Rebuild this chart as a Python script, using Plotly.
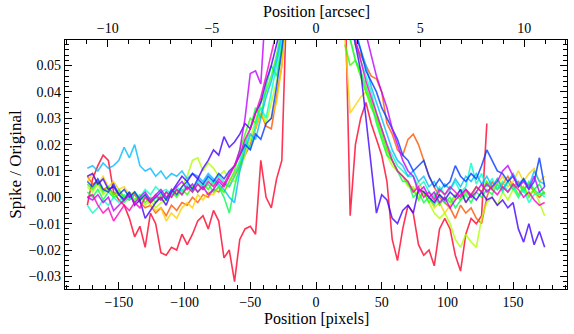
import plotly.graph_objects as go

# arcsec per pixel, for the top axis
scale = 0.0631

x_left = list(range(-174, -21, 4))
x_right = list(range(22, 175, 4))

# values in units of 1e-3 (Spike / Original)
red_l = [-3, 7, 12, 16, 14, 2, -1, -3, -8, -15, -11, -19, -6,
         -10, -21, -22, -19, -20, -14, -18, -14, -9, -7, -12, -5, -9,
         -23, -20, -32, -16, -12, -11, -14, 14, 0, -4, 7, 14, 80]
red_r = [80, -7, 20, 30, 36, 28, 22, 16, 6, -16, -24, -12, -3,
         -6, -18, -22, -20, -26, -12, -8, -12, -22, -28, -14, -8, -10,
         -7, 28, None, None, None, None, None, None, None, None, None, None, None]

orange_l = [8, 5, 6, 3, 4, 1, 2, 0, -1, 1, -2, -4, -3,
            -6, -4, -7, -3, -5, -2, -3, 0, -2, 1, 0, 3, 2,
            5, 4, 8, 12, 16, 20, 26, 32, 27, 26, 38, 50, 75]
orange_r = [80, 70, 58, 54, 50, 46, 45, 40, 28, 24, 18, 16, 22,
            24, 20, 14, 8, 4, 0, -2, -4, -8, -3, -6, -4, -8,
            -10, 0, 6, 3, 5, 8, 4, 6, 3, 5, 2, 0, 2]

gold_l = [6, 9, 5, 8, 4, 6, 3, 4, 1, 2, -1, 0, -3,
          -5, -4, -9, -6, -8, -4, -2, -4, 1, -1, 2, 1, 4,
          2, 6, 9, 13, 17, 22, 26, 32, 28, 30, 36, 50, 70]
gold_r = [60, 32, 35, 38, 40, 36, 30, 26, 18, 14, 10, 8, 6,
          2, 6, 2, 0, -4, -2, -6, -3, 0, 2, -2, 1, 4,
          2, 6, 3, 5, 8, 4, 6, 10, 6, 9, 11, 6, 8]

lime_l = [4, 2, 5, 1, 3, 0, 2, -1, 1, -2, 0, -3, -1,
          -4, -2, -1, 2, 2, 4, 8, 14, 15, 10, 13, 11, 8,
          10, 7, 6, 10, 16, 22, 30, 34, 28, 36, 44, 54, 72]
lime_r = [80, 60, 52, 46, 40, 36, 30, 22, 16, 12, 10, 8, 4,
          4, 0, 2, -2, -6, -8, -6, -10, -16, -19, -14, -17, -19,
          -8, -2, 0, -3, 2, -1, 3, 0, 4, 1, 3, -2, -7]

green_l = [5, 3, 6, 2, 4, 1, 3, 0, 2, -1, 1, -2, 0,
           -2, 1, -1, 2, 0, 3, 1, 4, 2, 5, 3, 6, 4,
           2, 6, 10, 18, 24, 30, 28, 36, 40, 46, 54, 64, 80]
green_r = [58, 50, 52, 46, 40, 34, 30, 24, 18, 14, 10, 8, 5,
           3, -1, 2, -2, 1, -3, 0, -2, 1, -1, 2, 0, 4,
           2, 6, 3, 7, 4, 2, 5, 1, 4, 0, 3, 1, 2]

green2_l = [2, 0, 3, -1, 2, 0, 1, -2, 0, 2, -1, 1, -2,
            0, -1, 2, 0, 3, 1, 4, 2, 5, 3, 5, 2, 4,
            0, -6, 4, 12, 20, 26, 34, 30, 42, 50, 46, 58, 75]
green2_r = [75, 60, 52, 48, 42, 36, 28, 22, 16, 14, 10, 6, 6,
            0, 2, -2, 0, -3, 1, -2, 0, -4, -1, 1, -2, 2,
            0, 3, 1, 5, 2, 6, 3, 5, 2, 6, 3, 5, 1]

aqua_l = [-3, -6, -4, -1, -3, 0, -2, 1, -1, 2, 0, 3, 1,
          4, 2, 3, 1, 4, 2, 5, 3, 6, 4, 7, 5, 8,
          6, 4, 8, 14, 22, 18, 28, 34, 30, 40, 50, 60, 75]
aqua_r = [80, 66, 58, 52, 46, 40, 32, 26, 20, 16, 12, 10, 8,
          8, 4, 6, 2, 0, 4, 1, 3, 6, 2, 4, 13, 5,
          9, 4, 7, 3, 6, 2, 4, 0, 3, -2, 1, 2, 0]

sky_l = [11, 12, 10, 13, 11, 12, 14, 19, 15, 20, 12, 10, 11,
         8, 10, 7, 9, 8, 10, 7, 9, 8, 6, 9, 7, 5,
         3, 0, -2, 10, 18, 24, 22, 30, 38, 44, 52, 62, 80]
sky_r = [80, 72, 64, 56, 50, 42, 36, 30, 24, 18, 14, 12, 8,
         10, 6, 8, 4, 6, 2, 5, 3, 7, 4, 8, 6, 9,
         5, 8, 4, 7, 3, 6, 9, 5, 7, 4, 10, 6, 5]

blue_l = [6, 4, 7, 3, 2, 5, 1, 3, 0, 2, -1, 1, -2,
          0, 2, -1, 3, 1, 4, 6, 3, 7, 5, 8, 6, 9,
          7, 10, 12, 16, 20, 18, 24, 22, 28, 30, 42, 56, 72]
blue_r = [80, 70, 62, 56, 48, 44, 40, 34, 30, 26, 22, 16, 14,
          10, 12, 14, 8, 4, 7, 4, 6, 12, 8, 6, 9, 7,
          12, 18, 14, 10, 9, 6, 8, 4, 7, 3, 6, 15, 4]

indigo_l = [8, 9, 5, 7, 3, 4, 1, -1, 2, -3, -1, -8, -5,
            -2, 0, -3, 2, 5, 8, 6, 9, 7, 11, 14, 18, 16,
            23, 19, 21, 24, 28, 26, 32, 36, 44, 50, 58, 66, 80]
indigo_r = [80, 70, 58, 48, 30, 12, -6, 1, -1, -8, -10, -5, -3,
            -6, 3, 2, 0, -2, 1, -1, 2, 0, 3, -2, 1, -1,
            2, -1, 0, -3, -1, -4, -2, -12, -17, -10, -18, -13, -19]

purple_l = [0, -1, 1, -2, 0, -5, -3, -1, 1, -2, 0, 2, -1,
            1, 3, 0, 2, 4, 6, 3, 5, 2, 4, 1, 3, 6,
            4, 8, 12, 18, 30, 47, 48, 43, 75, 80, 80, 80, 80]
purple_r = [80, 80, 80, 70, 62, 54, 46, 40, 34, 26, 20, 14, 10,
            8, 2, 4, 0, 2, -2, 0, -4, -1, 1, 3, 0, 2,
            5, 2, 4, 6, 10, 12, 8, 4, 6, 3, 8, 2, 4]

magenta_l = [0, 1, -3, -6, -4, -9, -6, -3, -5, -2, -4, 0, -2,
             1, -1, 2, 0, 3, 1, 4, 2, 5, 3, 6, 4, 7,
             5, 9, 12, 16, 22, 26, 32, 38, 46, 54, 62, 72, 80]
magenta_r = [80, 70, 60, 52, 44, 38, 32, 26, 20, 14, 10, 8, 6,
             2, 4, 0, 2, -1, 3, 1, 4, 2, 0, 3, 1, 4,
             2, 5, 3, 1, 4, 2, 5, 3, 0, 2, -1, -3, -2]

series = [
    (red_l, red_r), (orange_l, orange_r), (gold_l, gold_r), (lime_l, lime_r),
    (green_l, green_r), (green2_l, green2_r), (aqua_l, aqua_r), (sky_l, sky_r),
    (blue_l, blue_r), (indigo_l, indigo_r), (purple_l, purple_r), (magenta_l, magenta_r),
]

# gist_rainbow samples
colors = [
    (255, 0, 41), (255, 84, 0), (255, 209, 0), (176, 255, 0),
    (49, 255, 0), (0, 255, 75), (0, 255, 199), (0, 186, 255),
    (0, 59, 255), (66, 0, 255), (191, 0, 255), (255, 0, 191),
]

fig = go.Figure()
xs = x_left + [None] + x_right
for (yl, yr), c in zip(series, colors):
    ys = [v / 1000 if v is not None else None for v in yl + [None] + yr]
    fig.add_trace(go.Scatter(x=xs, y=ys, mode='lines',
                             line=dict(color='rgba(%d,%d,%d,0.8)' % c, width=1.6),
                             hoverinfo='skip'))

# dummy trace so the top axis exists
fig.add_trace(go.Scatter(x=[None], y=[None], xaxis='x2', showlegend=False))

serif = 'Liberation Serif, DejaVu Serif, Times New Roman, serif'
xmax = 191
fig.update_layout(
    width=574,
    height=334,
    margin=dict(l=65, r=7, t=40, b=45),
    plot_bgcolor='white',
    paper_bgcolor='white',
    showlegend=False,
    font=dict(family=serif, size=14, color='black'),
    xaxis=dict(
        range=[-xmax, xmax], dtick=50, tick0=0, automargin=False,
        ticks='inside', ticklen=7, tickcolor='black',
        showline=True, linecolor='black', linewidth=1.2,
        showgrid=False, zeroline=False,
        minor=dict(dtick=10, tick0=0, ticks='inside', ticklen=4, tickcolor='black'),
    ),
    xaxis2=dict(
        overlaying='x', side='top', anchor='y', automargin=False,
        range=[-xmax * scale, xmax * scale], dtick=5, tick0=0,
        ticks='inside', ticklen=7, tickcolor='black',
        showline=True, linecolor='black', linewidth=1.2,
        showgrid=False, zeroline=False,
        minor=dict(dtick=1, tick0=0, ticks='inside', ticklen=4, tickcolor='black'),
    ),
    yaxis=dict(
        range=[-0.0348, 0.0597], dtick=0.01, tick0=0, tickformat='.2f', automargin=False,
        ticks='inside', ticklen=7, tickcolor='black',
        showline=True, linecolor='black', linewidth=1.2, mirror='ticks',
        showgrid=False, zeroline=False,
        minor=dict(dtick=0.002, tick0=0, ticks='inside', ticklen=4, tickcolor='black'),
        title=dict(text='Spike / Original', font=dict(family=serif, size=17), standoff=2),
    ),
)

# x titles placed as annotations to sit where the reference has them
fig.add_annotation(text='Position [pixels]', xref='paper', yref='paper',
                   x=0.5, y=-0.122, yanchor='middle', showarrow=False,
                   font=dict(family=serif, size=16))
fig.add_annotation(text='Position [arcsec]', xref='paper', yref='paper',
                   x=0.5, y=1.114, yanchor='middle', showarrow=False,
                   font=dict(family=serif, size=16))

# the page body has a default 8px margin; remove it so the figure fills the window
fig.write_html("out.html", config={'displayModeBar': False},
               post_script="document.body.style.margin='0px';")
